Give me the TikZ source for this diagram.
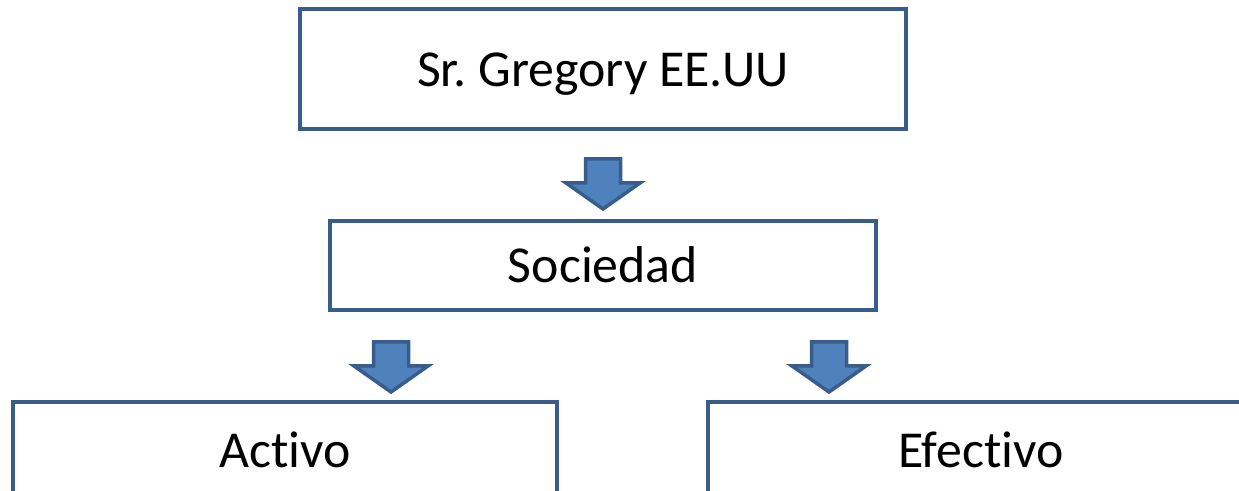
\documentclass[tikz,border=0pt]{standalone}
\usepackage{fontspec}
\setmainfont{Carlito}[Ligatures=NoCommon]
\usetikzlibrary{calc,positioning}
\definecolor{boxline}{HTML}{385D8A}
\definecolor{arrowfill}{HTML}{4F81BD}
\tikzset{%
	orgbox/.style    = {draw=boxline, line width=0.08cm, rectangle, text centered, inner sep=0pt, text height=21pt, text depth=1.2pt, font=\fontsize{29.5}{35}\selectfont},
	downarrow/.pic   = {\draw[draw=boxline, fill=arrowfill, line width=0.07cm]
		(-17.5,0) -- (17.5,0) -- (17.5,24) -- (37,24) -- (0,50) -- (-37,24) -- (-17.5,24) -- cycle;},
}
\begin{document}
\frenchspacing
\begin{tikzpicture}[x=0.02cm, y=-0.02cm]
	\useasboundingbox (0,0) rectangle (1239,490);
	\clip (0,0) rectangle (1239,490);
	% boxes
	\node[orgbox, minimum width=12.12cm, minimum height=2.4cm] (gregory) at (603,69) {Sr. Gregory EE.UU};
	\node[orgbox, minimum width=10.92cm, minimum height=1.78cm] (sociedad) at (603,265.5) {Sociedad};
	\node[orgbox, minimum width=10.88cm, minimum height=1.92cm] (activo) at (285,450) {Activo};
	\node[orgbox, minimum width=10.92cm, minimum height=1.92cm] (efectivo) at (981,450) {Efectivo};
	% block arrows
	\pic at ($(gregory.south)+(0,28)$) {downarrow};
	\pic at ($(sociedad.south)+(-212,30)$) {downarrow};
	\pic at ($(sociedad.south)+(226,30)$) {downarrow};
\end{tikzpicture}
\end{document}
